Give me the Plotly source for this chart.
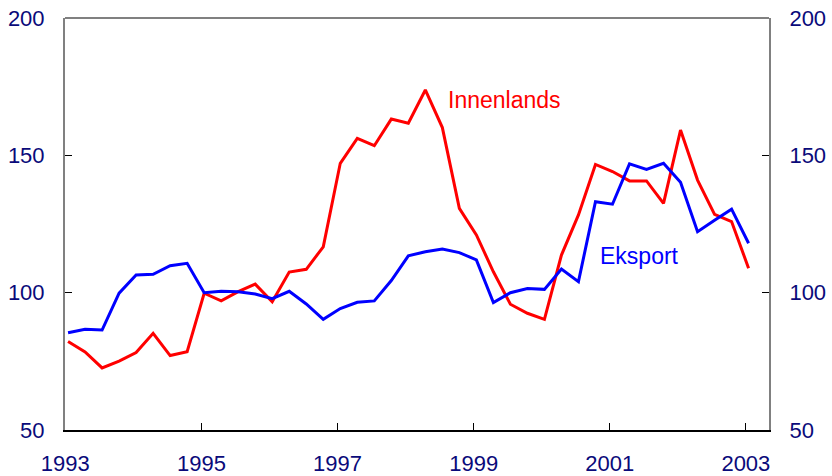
import plotly.graph_objects as go

quarters = [(y, q) for y in range(1993, 2004) for q in range(1, 5)][:41]
xpos = [y + (q - 1) / 4 + 0.04 for y, q in quarters]

innenlands = [82.2, 78.4, 72.6, 75.1, 78.2, 85.2, 77.1, 78.5,
              99.8, 97.0, 100.4, 103.1, 96.7, 107.5, 108.5, 116.7,
              147.1, 156.2, 153.5, 163.2, 161.7, 173.8, 160.1, 130.7,
              121.0, 107.6, 95.8, 92.5, 90.3, 113.7, 128.3, 146.7,
              144.1, 140.7, 140.7, 132.5, 159.2, 141.0, 128.5, 125.9, 108.9]
eksport = [85.4, 86.7, 86.4, 99.8, 106.4, 106.7, 109.8, 110.7,
           100.0, 100.5, 100.3, 99.5, 97.8, 100.5, 95.9, 90.3,
           94.2, 96.5, 97.0, 104.4, 113.4, 114.9, 115.9, 114.6,
           111.9, 96.4, 100.0, 101.5, 101.2, 108.6, 104.0, 133.1,
           132.2, 146.9, 144.9, 147.1, 140.2, 122.2, 126.4, 130.4, 118.0]

xticks = [1993, 1995, 1997, 1999, 2001, 2003]
yticks = [50, 100, 150, 200]

navy = "#0a0a7a"
font = "Liberation Sans, Arial, sans-serif"

fig = go.Figure()
fig.add_trace(go.Scatter(x=xpos, y=innenlands, mode="lines", name="Innenlands",
                         line=dict(color="#ff0000", width=3)))
fig.add_trace(go.Scatter(x=xpos, y=eksport, mode="lines", name="Eksport",
                         line=dict(color="#0000ff", width=3)))
fig.add_trace(go.Scatter(x=[xpos[0]], y=[innenlands[0]], yaxis="y2", mode="lines",
                         showlegend=False, hoverinfo="skip", line=dict(width=0)))

axis_common = dict(range=[50, 200], tickvals=yticks, ticks="inside", ticklen=7,
                   tickcolor="black", tickwidth=1, showgrid=False, zeroline=False,
                   showline=True, linecolor="#808080", linewidth=2, automargin=False,
                   tickfont=dict(family=font, size=22, color=navy))

fig.update_layout(
    width=832, height=476,
    margin=dict(l=65, r=63, t=18, b=46, autoexpand=False),
    paper_bgcolor="white", plot_bgcolor="white",
    showlegend=False,
    xaxis=dict(range=[1992.995, 2003.34], tickvals=xticks, ticks="inside", ticklen=7,
               tickcolor="black", showgrid=False, zeroline=False, automargin=False,
               showline=True, linecolor="black", linewidth=2,
               tickfont=dict(family=font, size=22, color=navy),
               ticklabelstandoff=13),
    yaxis=dict(side="left", ticklabelstandoff=14, **axis_common),
    yaxis2=dict(side="right", overlaying="y", ticklabelstandoff=14, **axis_common),
    shapes=[dict(type="line", xref="paper", yref="paper", x0=0, x1=1, y0=1, y1=1,
                 line=dict(color="#808080", width=2))],
    annotations=[
        dict(x=1998.59, y=170.1, text="Innenlands", showarrow=False, xanchor="left",
             yanchor="middle", font=dict(family=font, size=23, color="#ff0000")),
        dict(x=2000.82, y=113.4, text="Eksport", showarrow=False, xanchor="left",
             yanchor="middle", font=dict(family=font, size=23, color="#0000ff")),
    ],
)

fig.write_html("out.html", config={"displayModeBar": False},
               post_script="document.body.style.margin='0';document.body.style.overflow='hidden';")
